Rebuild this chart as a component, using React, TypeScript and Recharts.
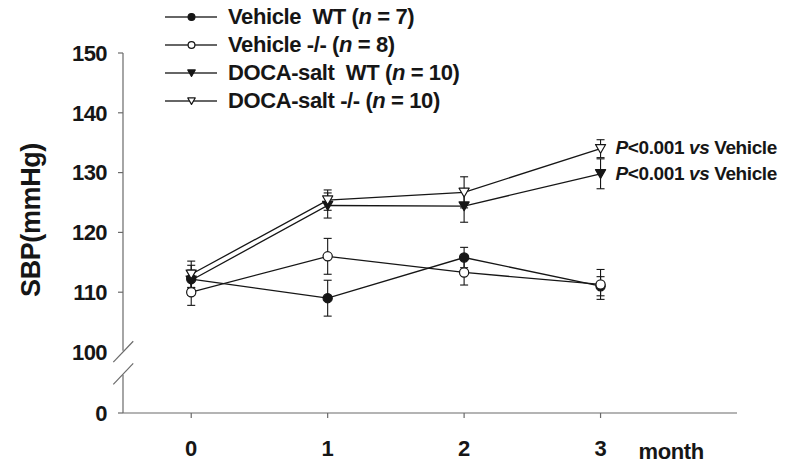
import React from 'react';
import { LineChart, Line, XAxis, YAxis, ErrorBar, ReferenceLine, LabelList } from 'recharts';

// months after treatment start
const months = [0, 1, 2, 3];

// SBP means (mmHg) and SEM
const vehicleWT = [112.2, 109.0, 115.8, 111.0];
const vehicleWTErr = [1.5, 3.0, 1.7, 1.6];
const vehicleKO = [110.0, 116.0, 113.3, 111.3];
const vehicleKOErr = [2.2, 3.0, 2.1, 2.5];
const docaWT = [112.0, 124.5, 124.4, 129.8];
const docaWTErr = [2.5, 2.1, 2.7, 2.5];
const docaKO = [113.0, 125.4, 126.7, 134.0];
const docaKOErr = [2.2, 1.7, 2.6, 1.5];

const yTicks = [100, 110, 120, 130, 140, 150];
const xTicks = [0, 1, 2, 3];
// the axis is broken below 100; "0" is drawn at this position
const BREAK_BASE = 89.8;
const pNote = 'P<0.001';

const FONT = '"Liberation Sans", Arial, Helvetica, sans-serif';
const INK = '#161616';
const AXIS = '#6a6a6a';

const data = months.map((m, i) => ({
  month: m,
  vWT: vehicleWT[i],
  vWTe: vehicleWTErr[i],
  vKO: vehicleKO[i],
  vKOe: vehicleKOErr[i],
  dWT: docaWT[i],
  dWTe: docaWTErr[i],
  dKO: docaKO[i],
  dKOe: docaKOErr[i],
}));

type Shape = 'circle' | 'tri';

const series: { key: string; err: string; group: string; geno: string; n: number; shape: Shape; filled: boolean; note: boolean }[] = [
  { key: 'vWT', err: 'vWTe', group: 'Vehicle', geno: ' WT', n: 7, shape: 'circle', filled: true, note: false },
  { key: 'vKO', err: 'vKOe', group: 'Vehicle', geno: '-/-', n: 8, shape: 'circle', filled: false, note: false },
  { key: 'dWT', err: 'dWTe', group: 'DOCA-salt', geno: ' WT', n: 10, shape: 'tri', filled: true, note: true },
  { key: 'dKO', err: 'dKOe', group: 'DOCA-salt', geno: '-/-', n: 10, shape: 'tri', filled: false, note: true },
];

function Marker({ cx, cy, shape, filled, size }: { cx: number; cy: number; shape: Shape; filled: boolean; size: number }) {
  if (cx == null || cy == null) return null;
  const fill = filled ? INK : '#fff';
  if (shape === 'circle') {
    return <circle cx={cx} cy={cy} r={size} fill={fill} stroke={INK} strokeWidth={1.2} />;
  }
  const w = size * 1.1;
  const d = `M${cx - w},${cy - size * 0.9} L${cx + w},${cy - size * 0.9} L${cx},${cy + size} Z`;
  return <path d={d} fill={fill} stroke={INK} strokeWidth={1.2} strokeLinejoin="round" />;
}

function YTick(props: any) {
  const { x, y, payload } = props;
  const v = payload.value;
  const label = v === BREAK_BASE ? '0' : String(v);
  return (
    <g>
      {v !== 100 && <line x1={x - 5} y1={y} x2={x} y2={y} stroke={AXIS} strokeWidth={1.2} />}
      <text x={x - 16} y={y} dy="0.355em" textAnchor="end" fontFamily={FONT} fontWeight="bold" fontSize={22} fill={INK} letterSpacing={-0.6}>
        {label}
      </text>
    </g>
  );
}

function XTick(props: any) {
  const { x, y, payload } = props;
  return (
    <g>
      <text x={x} y={y + 30} dy="0.355em" textAnchor="middle" fontFamily={FONT} fontWeight="bold" fontSize={22} fill={INK}>
        {payload.value}
      </text>
      {payload.value === xTicks[xTicks.length - 1] && (
        <text x={x + 38} y={y + 33} dy="0.355em" textAnchor="start" fontFamily={FONT} fontWeight="bold" fontSize={22} fill={INK} letterSpacing={-0.4}>
          month
        </text>
      )}
    </g>
  );
}

function YLabel(props: any) {
  const vb = props.viewBox || { x: 0, y: 0, height: 0 };
  const cx = vb.x + 30;
  const cy = vb.y + vb.height / 2 - 13;
  return (
    <text x={cx} y={cy} dy="0.355em" textAnchor="middle" transform={`rotate(-90 ${cx} ${cy})`} fontFamily={FONT} fontWeight="bold" fontSize={27} fill={INK} letterSpacing={-0.4}>
      SBP(mmHg)
    </text>
  );
}

function NoteLabel(props: any) {
  const { x, y, index } = props;
  if (index !== months.length - 1) return null;
  return (
    <text x={x + 15} y={y - 1} dy="0.355em" fontFamily={FONT} fontWeight="bold" fontSize={19} fill={INK} letterSpacing={-0.4}>
      <tspan fontStyle="italic">{pNote.slice(0, 1)}</tspan>
      <tspan>{pNote.slice(1)} </tspan>
      <tspan fontStyle="italic">vs</tspan>
      <tspan> Vehicle</tspan>
    </text>
  );
}

function LegendBox() {
  return (
    <div style={{ position: 'absolute', left: 165, top: 3, fontFamily: FONT, fontWeight: 'bold', fontSize: 22, color: INK, letterSpacing: -0.4 }}>
      {series.map((s) => (
        <div key={s.key} style={{ display: 'flex', alignItems: 'center', height: 28, whiteSpace: 'pre' }}>
          <svg width={52} height={28}>
            <line x1={0} y1={14} x2={52} y2={14} stroke="#333" strokeWidth={1.3} />
            <Marker cx={26.5} cy={14} shape={s.shape} filled={s.filled} size={3.4} />
          </svg>
          <span style={{ marginLeft: 11 }}>
            {s.group} {s.geno} (<i>n</i> = {s.n})
          </span>
        </div>
      ))}
    </div>
  );
}

export default function App() {
  return (
    <div style={{ position: 'absolute', left: 0, top: 0, width: 788, height: 470, background: '#fff' }}>
      <LineChart width={788} height={470} data={data} margin={{ top: 53, right: 51, bottom: 0, left: 0 }}>
        <XAxis
          dataKey="month"
          type="number"
          domain={[-0.5, 4]}
          ticks={xTicks}
          height={57}
          axisLine={{ stroke: AXIS, strokeWidth: 1.2 }}
          tickLine={{ stroke: AXIS, strokeWidth: 1.2 }}
          tickSize={5}
          tickMargin={0}
          tick={<XTick />}
        />
        <YAxis
          type="number"
          domain={[BREAK_BASE, 150]}
          ticks={[BREAK_BASE, ...yTicks]}
          allowDataOverflow
          width={123}
          axisLine={false}
          tickLine={false}
          tickSize={0}
          tickMargin={0}
          tick={<YTick />}
          label={<YLabel />}
        />
        {/* broken y axis: two segments and the pair of slashes */}
        <ReferenceLine segment={[{ x: -0.5, y: 150 }, { x: -0.5, y: 100.2 }]} stroke={AXIS} strokeWidth={1.2} ifOverflow="visible" />
        <ReferenceLine segment={[{ x: -0.5, y: 96.2 }, { x: -0.5, y: BREAK_BASE }]} stroke={AXIS} strokeWidth={1.2} ifOverflow="visible" />
        <ReferenceLine segment={[{ x: -0.571, y: 98.3 }, { x: -0.425, y: 101.8 }]} stroke={AXIS} strokeWidth={1.2} ifOverflow="visible" />
        <ReferenceLine segment={[{ x: -0.571, y: 94.6 }, { x: -0.425, y: 98.1 }]} stroke={AXIS} strokeWidth={1.2} ifOverflow="visible" />
        {series.map((s) => (
          <Line
            key={s.key}
            dataKey={s.key}
            type="linear"
            stroke={INK}
            strokeWidth={1.3}
            isAnimationActive={false}
            dot={(p: any) => <Marker key={`${s.key}-${p.index}`} cx={p.cx} cy={p.cy} shape={s.shape} filled={s.filled} size={4.6} />}
            activeDot={false}
          >
            <ErrorBar dataKey={s.err} width={4} stroke={INK} strokeWidth={1.1} direction="y" />
            {s.note && <LabelList content={<NoteLabel />} />}
          </Line>
        ))}
      </LineChart>
      <LegendBox />
    </div>
  );
}
